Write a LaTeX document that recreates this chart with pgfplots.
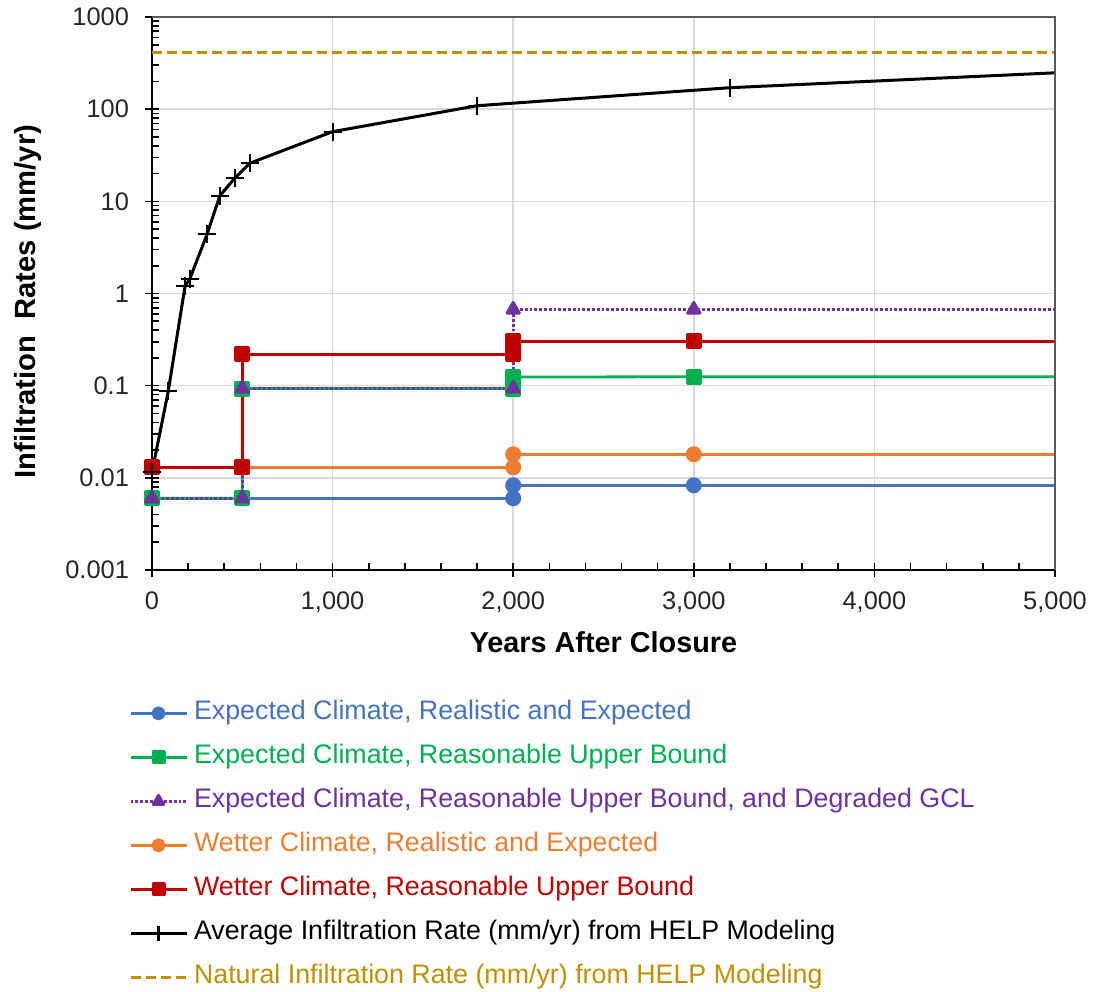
\documentclass[border=0pt]{standalone}
\usepackage{pgfplots}
\pgfplotsset{compat=1.18}
\usepackage{fontspec}
\setmainfont{Liberation Sans}
\definecolor{cblue}{HTML}{4472C4}
\definecolor{cgreen}{HTML}{00B050}
\definecolor{cpurple}{HTML}{7030A0}
\definecolor{corange}{HTML}{ED7D31}
\definecolor{cred}{HTML}{C00000}
\definecolor{cgold}{HTML}{BF9000}
\definecolor{cgrid}{HTML}{D9D9D9}
\definecolor{cframe}{HTML}{595959}
\begin{document}
\begin{tikzpicture}
\useasboundingbox (-76pt,-210.5pt) rectangle (472.5pt,285pt);
\begin{axis}[
  name=ax,
  at={(0,0)}, anchor=south west,
  scale only axis,
  width=451.5pt, height=276.5pt,
  xmin=0, xmax=5000,
  ymode=log, ymin=0.001, ymax=1000,
  axis x line*=bottom, axis y line*=left,
  axis line style={black, line width=0.9pt},
  xtick={0,1000,2000,3000,4000,5000},
  xticklabels={0,{1,000},{2,000},{3,000},{4,000},{5,000}},
  minor x tick num=4,
  ytick={0.001,0.01,0.1,1,10,100,1000},
  yticklabels={0.001,0.01,0.1,1,10,100,1000},
  tick align=inside,
  major tick length=7pt, minor tick length=3.5pt,
  every major y tick/.append style={xshift=-3.5pt},
  every major x tick/.append style={yshift=-3.5pt},
  tick style={black, line width=0.8pt},
  grid=major,
  major grid style={cgrid, line width=0.8pt},
  tick label style={font=\fontsize{12.7}{14}\selectfont, text=black!85},
  yticklabel style={xshift=-8pt},
  xticklabel style={yshift=-7.5pt},
  xlabel={Years After Closure},
  ylabel={Infiltration\ \ Rates (mm/yr)},
  every axis x label/.style={at={([yshift=-36pt]rel axis cs:0.5,0)}, anchor=center, font=\fontsize{14.4}{16}\selectfont\bfseries},
  every axis y label/.style={at={([xshift=-62pt,yshift=-4pt]rel axis cs:0,0.5)}, anchor=center, rotate=90, font=\fontsize{14.6}{16}\selectfont\bfseries},
  legend style={at={(-0.0325,-0.225)}, anchor=north west, draw=none, fill=none,
    font=\fontsize{13.4}{15}\selectfont,
    nodes={inner sep=1pt, text height=9.5pt, text depth=3pt, anchor=west},
    row sep=7.5pt, column sep=2pt},
  legend cell align=left,
  legend image code/.code={\draw[#1, mark indices={2}, mark options={solid, scale=0.85}] plot coordinates {(0pt,0pt) (14pt,0pt) (28pt,0pt)};},
  every axis plot/.append style={line width=1.4pt, line join=round},
]
\addplot[cblue, mark=*, mark size=3.3pt, mark indices={1,2,3,4,5}] coordinates {
 (0,0.006) (500,0.006) (2000,0.006) (2000,0.0083) (3000,0.0083) (5000,0.0083)};
\addlegendentry{\textcolor{cblue}{Expected Climate, Realistic and Expected}}
\addplot[cgreen, mark=square*, mark size=3.3pt, mark indices={1,2,3,4,5,6}] coordinates {
 (0,0.006) (500,0.006) (500,0.093) (2000,0.093) (2000,0.124) (3000,0.125) (5000,0.125)};
\addlegendentry{\textcolor{cgreen}{Expected Climate, Reasonable Upper Bound}}
\addplot[cpurple, densely dotted, mark=triangle*, mark size=3.6pt, mark indices={1,2,3,4,5,6}, mark options={solid}] coordinates {
 (0,0.006) (500,0.006) (500,0.093) (2000,0.093) (2000,0.67) (3000,0.67) (5000,0.67)};
\addlegendentry{\textcolor{cpurple}{Expected Climate, Reasonable Upper Bound, and Degraded GCL}}
\addplot[corange, mark=*, mark size=3.3pt, mark indices={1,2,3,4,5}] coordinates {
 (0,0.013) (500,0.013) (2000,0.013) (2000,0.018) (3000,0.018) (5000,0.018)};
\addlegendentry{\textcolor{corange}{Wetter Climate, Realistic and Expected}}
\addplot[cred, mark=square*, mark size=3.3pt, mark indices={1,2,3,4,5,6}] coordinates {
 (0,0.013) (500,0.013) (500,0.22) (2000,0.22) (2000,0.304) (3000,0.304) (5000,0.304)};
\addlegendentry{\textcolor{cred}{Wetter Climate, Reasonable Upper Bound}}
\addplot[black, line width=1.5pt, mark=+, mark size=4.5pt, mark options={line width=0.9pt}, mark indices={1,2,3,4,5,6,7,8,9,10,11}] coordinates {
 (0,0.0115) (90,0.087) (183,1.2) (210,1.45) (305,4.4) (376,11.5) (460,18) (543,26) (1000,57) (1800,109) (3200,171) (5000,248)};
\addlegendentry{Average Infiltration Rate (mm/yr) from HELP Modeling}
\addplot[cgold, line width=1.5pt, dash pattern=on 5pt off 2.5pt] coordinates {(0,410) (5000,410)};
\addlegendentry{\textcolor{cgold}{Natural Infiltration Rate (mm/yr) from HELP Modeling}}
\end{axis}
\draw[cframe, line width=0.9pt] (ax.north west) -- (ax.north east) -- (ax.south east);
\end{tikzpicture}
\end{document}
